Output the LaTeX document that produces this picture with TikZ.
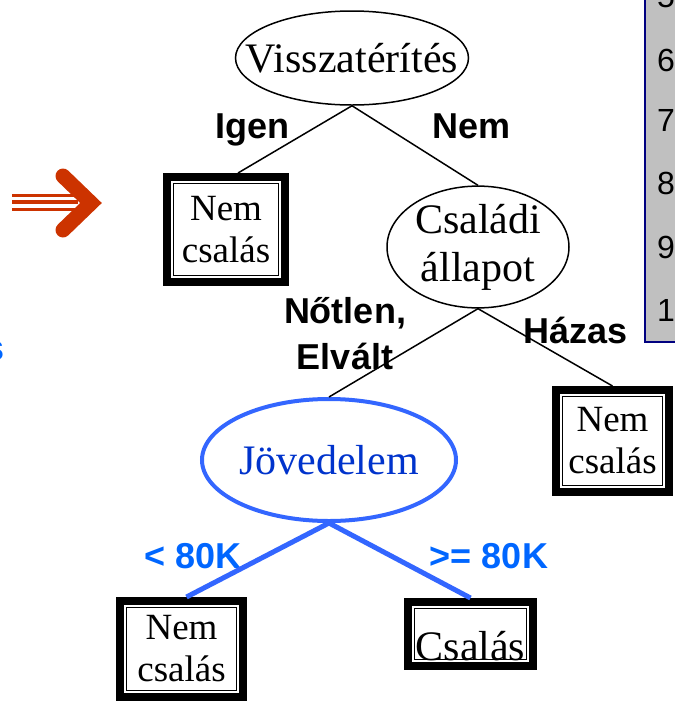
\documentclass[tikz,border=0pt]{standalone}
\usepackage{fontspec}
\setmainfont{Liberation Serif}
\setsansfont{Liberation Sans}
\usepackage{tikz}
\usetikzlibrary{shapes.geometric}
\usetikzlibrary{calc}
\definecolor{arrowred}{HTML}{CC3300}
\definecolor{edgeblue}{HTML}{3366FF}
\definecolor{textblue}{HTML}{0033CC}
\definecolor{labelblue}{HTML}{0066FF}
\definecolor{tablegray}{HTML}{C0C0C0}
\definecolor{tablenavy}{HTML}{000080}

\begin{document}
\begin{tikzpicture}[x=1pt, y=-1pt,
    attr/.style={draw, ellipse, line width=1.5pt, inner sep=0pt, align=center,
        font=\fontsize{42}{48}\selectfont},
    leaf/.style={draw, line width=8pt, inner sep=0pt, align=center,
        font=\fontsize{37}{42}\selectfont,
        path picture={\draw[line width=1.4pt]
            ([shift={(6.3pt,-6.3pt)}]path picture bounding box.north west) rectangle
            ([shift={(-6.3pt,6.3pt)}]path picture bounding box.south east);}},
    branch/.style={inner sep=0pt, align=center,
        font=\fontsize{36}{46}\selectfont\sffamily\bfseries}]
        \useasboundingbox (0,0) rectangle (675,705);
        \clip (0,0) rectangle (675,705);
        % table on the right, cut off
        \fill[tablegray] (646,-5) rectangle (685,342);
        \draw[tablenavy, line width=2pt] (645,-5) -- (645,342) -- (685,342);
        \foreach \d/\y in {5/-3, 6/60, 7/120, 8/183, 9/247, 1/310}
            \node[anchor=west, inner sep=0pt, font=\fontsize{32}{36}\selectfont\sffamily] (row\d) at (657,\y) {\d};
        % arrow on the left
        \foreach \y/\w in {195.5/3, 202/4, 209.5/3}
            \draw[arrowred, line width=\w pt] (12,\y) -- (78,\y);
        \draw[arrowred, line width=15pt, line cap=round, line join=miter] (63,176) -- (91,203) -- (63,230);
        \node[anchor=base east, inner sep=0pt, text=labelblue, font=\fontsize{36}{46}\selectfont\sffamily\bfseries] (cut) at (4.5,360) {s};
        % tree
        \node[attr, minimum width=233pt, minimum height=94pt] (visszaterites) at (352,58) {\makebox[0pt]{Visszatérítés}};
        \node[leaf, minimum width=118pt, minimum height=105pt] (nem1) at (226,229.5) {Nem\\csalás};
        \node[attr, minimum width=182pt, minimum height=112pt] (csaladi) at (478,247) {\makebox[0pt]{Családi}\\\makebox[0pt]{állapot}};
        \node[leaf, minimum width=113pt, minimum height=102pt] (nem2) at (612.5,441) {Nem\\csalás};
        \node[attr, draw=edgeblue, text=textblue, line width=4pt, minimum width=254pt, minimum height=122pt] (jovedelem) at (329,460) {\makebox[0pt]{Jövedelem}};
        \node[leaf, minimum width=123pt, minimum height=96pt] (nem3) at (181.5,649) {Nem\\csalás};
        \node[leaf, font=\fontsize{42}{48}\selectfont, minimum width=125pt, minimum height=64pt, text height=58pt, text depth=6pt] (csalas) at (470.5,634) {Csalás};
        % branch labels
        \node[branch, anchor=base] (igen) at (252,138) {Igen};
        \node[branch, anchor=base] (nem) at (472,138) {Nem};
        \node[branch, anchor=base] (notlen) at (345,369) {Nőtlen,\\Elvált};
        \node[branch, anchor=base] (hazas) at (575.5,343) {Házas};
        \node[branch, anchor=base, text=labelblue] (kisebb) at (193,568) {< 80K};
        \node[branch, anchor=base, text=labelblue] (nagyobb) at (489,568) {>= 80K};
        % edges
        \draw[line width=1.5pt] (visszaterites.south) -- ([xshift=12pt]nem1.north);
        \draw[line width=1.5pt] (visszaterites.south) -- (csaladi.north);
        \draw[line width=1.5pt] (csaladi.south) -- (jovedelem.north);
        \draw[line width=1.5pt] (csaladi.south) -- (nem2.north);
        \draw[edgeblue, line width=5pt] (jovedelem.south) -- ([xshift=5pt]nem3.north);
        \draw[edgeblue, line width=5pt] (jovedelem.south) -- (csalas.north);
    \end{tikzpicture}
\end{document}
